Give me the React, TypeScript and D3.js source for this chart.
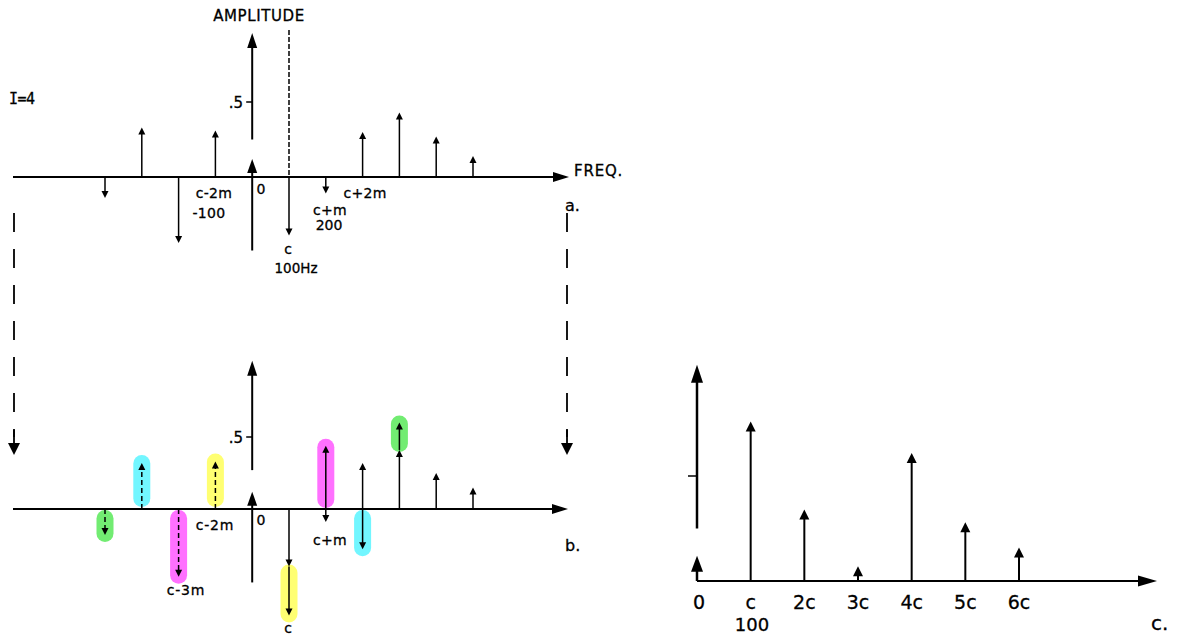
import React from "react";
import * as d3 from "d3";

// Panel a: FM spectrum, I = 4 (c = 100 Hz, m = 100 Hz)
const aFreqs = [-400, -300, -200, -100, 0, 100, 200, 300, 400, 500, 600];
const aValues = [-0.14, 0.33, -0.44, 0.31, 0.12, -0.39, -0.11, 0.3, 0.43, 0.27, 0.14];

// Panel b: positive-frequency components (solid)
const bSolidFreqs = [0, 100, 200, 300, 400, 500, 600];
const bSolidValues = [0.12, -0.4, -0.09, 0.32, 0.41, 0.25, 0.15];
// Panel b: negative-frequency components (dashed) and where they fold to
const bNegFreqs = [-400, -300, -200, -100];
const bNegValues = [-0.18, 0.32, -0.47, 0.33];
const bFoldFreqs = [400, 300, 200, 100];
const bFoldStart = [0.41, 0, 0, -0.4];
const bFoldEnd = [0.6, -0.28, 0.44, -0.74];
const foldColors = ["#72ec72", "#72f6ff", "#ff70ff", "#ffff72"];

// Panel c: resulting harmonic spectrum
const cLabels = ["0", "c", "2c", "3c", "4c", "5c", "6c"];
const cFreqs = [0, 100, 200, 300, 400, 500, 600];
const cValues = [0.12, 0.76, 0.34, 0.07, 0.61, 0.28, 0.16];

const FONT = "DejaVu Sans, sans-serif";

function head(x: number, yTip: number, dir: number, len: number, hw: number) {
  // dir: -1 = pointing up, +1 = pointing down
  const yb = yTip - dir * len;
  return `M${x},${yTip}L${x - hw},${yb}L${x + hw},${yb}Z`;
}
function headRight(xTip: number, y: number, len: number, hw: number) {
  return `M${xTip},${y}L${xTip - len},${y - hw}L${xTip - len},${y + hw}Z`;
}

function Stem({ x, y0, y1, dashed = false, len = 7, hw = 3.5, sw = 1.5 }: any) {
  const dir = y1 < y0 ? -1 : 1;
  return (
    <g>
      <line x1={x} x2={x} y1={y0} y2={y1 - dir * (len - 1)} stroke="#000" strokeWidth={sw}
        strokeDasharray={dashed ? "5 3" : undefined} />
      <path d={head(x, y1, dir, len, hw)} fill="#000" />
    </g>
  );
}

function Txt({ x, y, children, size = 14, anchor = "middle", ls = 0, family = FONT }: any) {
  return (
    <text x={x} y={y} fontFamily={family} fontSize={size} textAnchor={anchor}
      letterSpacing={ls} fill="#000" stroke="#000" strokeWidth={0.3}>{children}</text>
  );
}

export default function App() {
  // Panel a scales
  const xa = d3.scaleLinear().domain([-400, 600]).range([105, 473]);
  const ya = d3.scaleLinear().domain([0, 0.5]).range([177, 102]);
  // Panel b scales
  const xb = d3.scaleLinear().domain([-400, 600]).range([105, 473]);
  const yb = d3.scaleLinear().domain([0, 0.5]).range([509, 437]);
  // Panel c scales
  const xc = d3.scaleLinear().domain([0, 600]).range([697, 1019]);
  const yc = d3.scaleLinear().domain([0, 0.5]).range([581, 476]);

  const a0 = xa(0);
  const b0 = xb(0);

  return (
    <svg width={1179} height={636} style={{ position: "absolute", left: 0, top: 0, background: "#fff" }}>
      {/* ================= Panel a ================= */}
      <Txt x={259} y={21} size={15} ls={0.6}>AMPLITUDE</Txt>
      <Txt x={9} y={104} size={15} anchor="start" family="DejaVu Sans Mono, monospace" ls={-0.5}>I=4</Txt>
      {/* amplitude axis */}
      <line x1={a0} x2={a0} y1={ya(0.25)} y2={ya(0.92)} stroke="#000" strokeWidth={2} />
      <path d={head(a0, ya(0.96), -1, 15, 5)} fill="#000" />
      <line x1={a0} x2={a0} y1={ya(0)} y2={ya(-0.49)} stroke="#000" strokeWidth={2} />
      <line x1={a0 - 6} x2={a0} y1={ya(0.5)} y2={ya(0.5)} stroke="#000" strokeWidth={1.5} />
      <Txt x={243} y={108} size={15} anchor="end">.5</Txt>
      {/* dashed line at c */}
      <line x1={xa(100)} x2={xa(100)} y1={30} y2={ya(0)} stroke="#000" strokeWidth={1.5} strokeDasharray="5 2" />
      {/* frequency axis */}
      <line x1={13} x2={556} y1={ya(0)} y2={ya(0)} stroke="#000" strokeWidth={2} />
      <path d={headRight(569, ya(0), 16, 5)} fill="#000" />
      <Txt x={574} y={176} size={15} anchor="start" ls={0.8}>FREQ.</Txt>
      {aFreqs.map((f, i) =>
        f === 0 ? (
          <g key={i}>
            <line x1={a0} x2={a0} y1={ya(0)} y2={ya(aValues[i]) + 10} stroke="#000" strokeWidth={2} />
            <path d={head(a0, ya(aValues[i]), -1, 14, 5)} fill="#000" />
          </g>
        ) : (
          <Stem key={i} x={xa(f)} y0={ya(0)} y1={ya(aValues[i])} />
        )
      )}
      <Txt x={214} y={198} size={14} ls={0.3}>c-2m</Txt>
      <Txt x={209} y={218} size={14} ls={0.3}>-100</Txt>
      <Txt x={261} y={194} size={14}>0</Txt>
      <Txt x={288} y={254} size={14}>c</Txt>
      <Txt x={296} y={273} size={13.5}>100Hz</Txt>
      <Txt x={330} y={215} size={14} ls={0.3}>c+m</Txt>
      <Txt x={329} y={230} size={14}>200</Txt>
      <Txt x={365} y={198} size={14} ls={0.3}>c+2m</Txt>
      <Txt x={565} y={211} size={16} anchor="start">a.</Txt>

      {/* connecting dashed arrows */}
      {[14, 567].map((x) => (
        <g key={x}>
          <line x1={x} x2={x} y1={213} y2={437} stroke="#000" strokeWidth={1.8} strokeDasharray="19 17" />
          <path d={head(x, 455, 1, 12, 6)} fill="#000" />
          <line x1={x} x2={x} y1={430} y2={445} stroke="#000" strokeWidth={1.8} />
        </g>
      ))}

      {/* ================= Panel b ================= */}
      {/* highlights */}
      {bNegFreqs.map((f, i) => {
        const y0 = yb(0), y1 = yb(bNegValues[i]);
        const top = Math.min(y0, y1), bot = Math.max(y0, y1);
        const t = y1 < y0 ? top - 8 : top + 1;
        const bt = y1 < y0 ? bot - 2 : bot + 7;
        return <rect key={"hn" + i} x={xb(f) - 8.5} width={17} y={t} height={bt - t} rx={8.5} fill={foldColors[i]} />;
      })}
      {bFoldFreqs.map((f, i) => {
        const ys = yb(bFoldStart[i]), ye = yb(bFoldEnd[i]);
        const dir = ye < ys ? -1 : 1;
        const sEdge = ys + dir * (bFoldStart[i] === 0 ? 1 : -2);
        const eEdge = ye + dir * 7;
        const t = Math.min(sEdge, eEdge), bt = Math.max(sEdge, eEdge);
        return <rect key={"hf" + i} x={xb(f) - 8.5} width={17} y={t} height={bt - t} rx={8.5} fill={foldColors[i]} />;
      })}
      {/* amplitude axis */}
      <line x1={b0} x2={b0} y1={yb(0.27)} y2={yb(0.98)} stroke="#000" strokeWidth={2} />
      <path d={head(b0, yb(1.03), -1, 15, 5)} fill="#000" />
      <line x1={b0} x2={b0} y1={yb(0)} y2={yb(-0.51)} stroke="#000" strokeWidth={2} />
      <line x1={b0 - 6} x2={b0} y1={yb(0.5)} y2={yb(0.5)} stroke="#000" strokeWidth={1.5} />
      <Txt x={243} y={443} size={15} anchor="end">.5</Txt>
      {/* frequency axis */}
      <line x1={13} x2={556} y1={yb(0)} y2={yb(0)} stroke="#000" strokeWidth={2} />
      <path d={headRight(568, yb(0), 16, 5)} fill="#000" />
      {bNegFreqs.map((f, i) => (
        <Stem key={"bn" + i} x={xb(f)} y0={yb(0)} y1={yb(bNegValues[i])} dashed />
      ))}
      {bSolidFreqs.map((f, i) =>
        f === 0 ? (
          <g key={"bs" + i}>
            <line x1={b0} x2={b0} y1={yb(0)} y2={yb(bSolidValues[i]) + 10} stroke="#000" strokeWidth={2} />
            <path d={head(b0, yb(bSolidValues[i]), -1, 14, 5)} fill="#000" />
          </g>
        ) : (
          <Stem key={"bs" + i} x={xb(f)} y0={yb(0)} y1={yb(bSolidValues[i])} />
        )
      )}
      {bFoldFreqs.map((f, i) => (
        <Stem key={"bf" + i} x={xb(f)} y0={yb(bFoldStart[i])} y1={yb(bFoldEnd[i])} />
      ))}
      <Txt x={215} y={530} size={14} ls={0.8}>c-2m</Txt>
      <Txt x={186} y={595} size={14} ls={0.8}>c-3m</Txt>
      <Txt x={261} y={525} size={14}>0</Txt>
      <Txt x={330} y={545} size={14} ls={0.3}>c+m</Txt>
      <Txt x={288} y={633} size={14}>c</Txt>
      <Txt x={565} y={551} size={16} anchor="start">b.</Txt>

      {/* ================= Panel c ================= */}
      <line x1={xc(0)} x2={xc(0)} y1={yc(0.25)} y2={yc(0.97)} stroke="#000" strokeWidth={2.5} />
      <path d={head(xc(0), yc(1.03), -1, 18, 6)} fill="#000" />
      <line x1={xc(0) - 9} x2={xc(0)} y1={yc(0.5)} y2={yc(0.5)} stroke="#000" strokeWidth={1.5} />
      <line x1={xc(0)} x2={1140} y1={yc(0)} y2={yc(0)} stroke="#000" strokeWidth={2} />
      <path d={headRight(1157, yc(0), 19, 5.5)} fill="#000" />
      {cFreqs.map((f, i) =>
        f === 0 ? (
          <g key={"c" + i}>
            <path d={head(xc(0), yc(cValues[i]), -1, 16, 6)} fill="#000" />
            <line x1={xc(0)} x2={xc(0)} y1={yc(0)} y2={yc(cValues[i]) + 12} stroke="#000" strokeWidth={2.5} />
          </g>
        ) : (
          <Stem key={"c" + i} x={xc(f)} y0={yc(0)} y1={yc(cValues[i])} len={10} hw={5} sw={2} />
        )
      )}
      {cLabels.map((l, i) => (
        <Txt key={"cl" + i} x={xc(cFreqs[i]) + (i === 0 ? 2 : 0)} y={609} size={19}>{l}</Txt>
      ))}
      <Txt x={752} y={631} size={18}>100</Txt>
      <Txt x={1151} y={630} size={20} anchor="start">c.</Txt>
    </svg>
  );
}
